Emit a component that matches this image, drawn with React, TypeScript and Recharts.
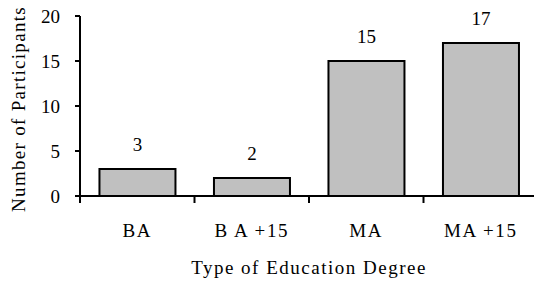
import { BarChart, Bar, XAxis, YAxis, LabelList } from 'recharts';

const degrees = ['BA', 'B A +15', 'MA', 'MA +15'];
const participants = [3, 2, 15, 17];
const yTicks = [0, 5, 10, 15, 20];

const FONT = '"Liberation Serif", "Times New Roman", serif';

const data = degrees.map((degree, i) => ({ degree, count: participants[i] }));

// category label plus a tick mark on the left edge of each band
function DegreeTick(props: any) {
  const { x, y, payload } = props;
  const half = payload.offset ?? 0;
  return (
    <g>
      <line x1={x - half} x2={x - half} y1={y} y2={y + 7} stroke="#000" strokeWidth={2} />
      <text x={x} y={y + 41} textAnchor="middle" fontFamily={FONT} fontSize={19} letterSpacing={1.6} fill="#000">
        {payload.value}
      </text>
    </g>
  );
}

function YTitle(props: any) {
  const { viewBox } = props;
  const cx = 18;
  const cy = viewBox.y + viewBox.height / 2 + 3;
  return (
    <text
      x={cx}
      y={cy}
      transform={`rotate(-90 ${cx} ${cy})`}
      textAnchor="middle"
      dominantBaseline="central"
      fontFamily={FONT}
      fontSize={19}
      letterSpacing={1.3}
      fill="#000"
    >
      Number of Participants
    </text>
  );
}

export default function App() {
  return (
    <div style={{ position: 'absolute', left: 0, top: 0, width: 534, height: 286, overflow: 'hidden', background: '#fff' }}>
      <BarChart
        width={538}
        height={286}
        data={data}
        margin={{ top: 16, right: 0, bottom: 0, left: 0 }}
        barCategoryGap="17%"
      >
        <XAxis
          dataKey="degree"
          axisLine={{ stroke: '#000', strokeWidth: 2 }}
          tickLine={false}
          tickSize={0}
          tickMargin={0}
          height={90}
          interval={0}
          tick={<DegreeTick />}
          label={{
            value: 'Type of Education Degree',
            position: 'insideBottom',
            offset: 12,
            fill: '#000',
            fontFamily: FONT,
            fontSize: 19,
            letterSpacing: 1.5,
          }}
        />
        <YAxis
          width={80}
          domain={[0, 20]}
          ticks={yTicks}
          interval={0}
          axisLine={{ stroke: '#000', strokeWidth: 2 }}
          tickLine={{ stroke: '#000', strokeWidth: 2 }}
          tickSize={5}
          tickMargin={15}
          tick={{ fill: '#000', fontFamily: FONT, fontSize: 19 }}
          label={<YTitle />}
        />
        <Bar dataKey="count" fill="#c0c0c0" stroke="#000" strokeWidth={2} isAnimationActive={false}>
          <LabelList dataKey="count" position="top" offset={18} fill="#000" fontFamily={FONT} fontSize={19} />
        </Bar>
      </BarChart>
    </div>
  );
}
